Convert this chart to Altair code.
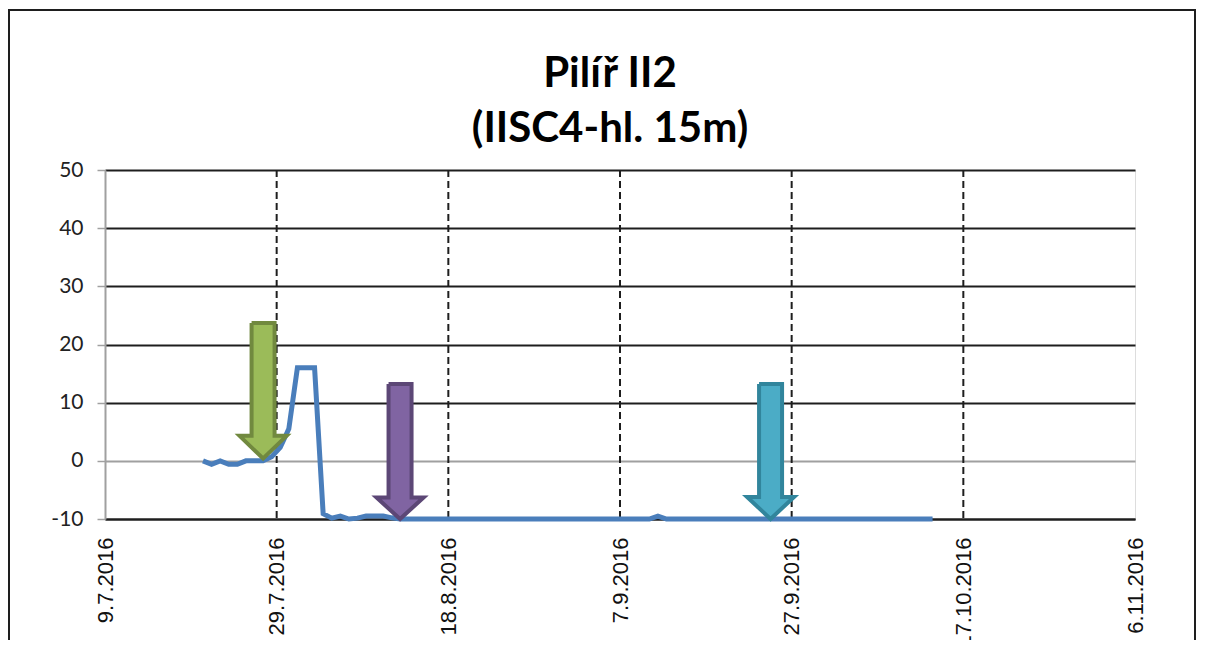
import altair as alt
import pandas as pd

# ---------------- data ----------------
first_day = "2016-07-20 10:00"
series_values = [
    # Jul 20 - Jul 31
    0, -0.6, 0, -0.6, -0.6, 0, 0, 0, 0.7, 2.3, 5.5, 16,
    # Aug 1 - Aug 31
    16, 16, -9.1, -9.85, -9.5, -10, -9.85, -9.5, -9.5, -9.5, -9.8,
    -10, -10, -10, -10, -10, -10, -10, -10, -10, -10,
    -10, -10, -10, -10, -10, -10, -10, -10, -10, -10,
    # Sep 1 - Sep 30
    -10, -10, -10, -10, -10, -10, -10, -10, -10, -10,
    -9.5, -10, -10, -10, -10, -10, -10, -10, -10, -10,
    -10, -10, -10, -10, -10, -10, -10, -10, -10, -10,
    # Oct 1 - Oct 13
    -10, -10, -10, -10, -10, -10, -10, -10, -10, -10, -10, -10, -10,
]
series_dates = pd.date_range(first_day, periods=len(series_values), freq="D")

tick_dates = ["2016-07-09", "2016-07-29", "2016-08-18", "2016-09-07",
              "2016-09-27", "2016-10-17", "2016-11-06"]
y_ticks = [-10, 0, 10, 20, 30, 40, 50]

title_text = "Pilíř II2"
subtitle_text = "(IISC4-hl. 15m)"

# arrows (annotation shapes)
arrow_centers = ["2016-07-27 10:00", "2016-08-12 09:00", "2016-09-24 13:00"]
arrow_tops = [23.7, 13.2, 13.2]
arrow_head_tops = [4.3, -6.3, -6.2]
arrow_tips = [0.4, -10, -10]
arrow_fills = ["#9bbb59", "#8064a2", "#4bacc6"]
arrow_strokes = ["#71893f", "#5c4776", "#31859c"]
shaft_half_days = 1.34
head_half_days = 2.74

# ---------------- build ----------------
df = pd.DataFrame({"date": series_dates, "value": series_values})


def dt(s):
    t = pd.Timestamp(s)
    return alt.DateTime(year=t.year, month=t.month, date=t.day)


x_scale = alt.Scale(domain=[dt(tick_dates[0]), dt(tick_dates[-1])])
y_scale = alt.Scale(domain=[-10, 50], nice=False, zero=False)

x_axis = alt.Axis(
    values=[dt(d) for d in tick_dates], format="%-d.%-m.%Y", labelAngle=270,
    grid=False, ticks=False, domainColor="#1e1e1e", domainWidth=2,
    labelPadding=18, labelFont="Liberation Sans", labelFontSize=22,
    labelColor="#111111", labelFlush=False, labelOverlap=False, title=None,
)
y_axis = alt.Axis(
    values=y_ticks, grid=True,
    gridColor={"condition": {"test": "datum.value === 0", "value": "#a0a0a0"},
               "value": "#1e1e1e"},
    gridWidth=2, domainColor="#a0a0a0", domainWidth=2, tickColor="#a0a0a0",
    tickSize=8, tickWidth=1.5, labelFont="Lato", labelFontSize=21,
    labelColor="#222222", labelPadding=14, title=None,
    labelExpr="'' + datum.value",
)

base_x = alt.X("date:T", scale=x_scale, axis=x_axis)
base_y = alt.Y("value:Q", scale=y_scale, axis=y_axis)

grid_df = pd.DataFrame({"date": pd.to_datetime(tick_dates[1:-1])})
vgrid = alt.Chart(grid_df).mark_rule(
    color="#1e1e1e", strokeWidth=2, strokeDash=[7, 4]
).encode(x=alt.X("date:T", scale=x_scale))

line = alt.Chart(df).mark_line(color="#4a7ebb", strokeWidth=5).encode(
    x=base_x, y=base_y
)

layers = [vgrid, line]
for c, top, ht, tip, f, s in zip(arrow_centers, arrow_tops, arrow_head_tops,
                                 arrow_tips, arrow_fills, arrow_strokes):
    cc = pd.Timestamp(c)
    sh = pd.Timedelta(days=shaft_half_days)
    hh = pd.Timedelta(days=head_half_days)
    pts = [
        (cc - sh, top), (cc + sh, top), (cc + sh, ht), (cc + hh, ht),
        (cc, tip), (cc - hh, ht), (cc - sh, ht), (cc - sh, top),
    ]
    adf = pd.DataFrame({"date": [p[0] for p in pts],
                        "value": [p[1] for p in pts],
                        "k": list(range(len(pts)))})
    layers.append(
        alt.Chart(adf).mark_line(fill=f, stroke=f, strokeWidth=0).encode(
            x=alt.X("date:T", scale=x_scale),
            y=alt.Y("value:Q", scale=y_scale), order="k:O")
    )
    layers.append(
        alt.Chart(adf).mark_line(stroke=s, strokeWidth=4, strokeJoin="miter").encode(
            x=alt.X("date:T", scale=x_scale),
            y=alt.Y("value:Q", scale=y_scale), order="k:O")
    )

one = pd.DataFrame({"a": [0]})
border = alt.Chart(one).mark_rect(
    fillOpacity=0, stroke="#1e1e1e", strokeWidth=2
).encode(x=alt.value(-96), x2=alt.value(1090), y=alt.value(-160), y2=alt.value(700))
layers.append(border)

title_mark = alt.Chart(pd.DataFrame({"t": [title_text]})).mark_text(
    font="Lato", fontSize=42, fontWeight="bold", color="#000000",
    align="center", baseline="alphabetic"
).encode(text="t:N", x=alt.value(505), y=alt.value(-83))
subtitle_mark = alt.Chart(pd.DataFrame({"t": [subtitle_text]})).mark_text(
    font="Lato", fontSize=42, fontWeight="bold", color="#000000",
    align="center", baseline="alphabetic"
).encode(text="t:N", x=alt.value(505), y=alt.value(-28))
layers += [title_mark, subtitle_mark]

chart = alt.layer(*layers).properties(
    width=1030, height=349,
    autosize=alt.AutoSizeParams(type="none"),
    padding={"left": 97, "top": 162, "right": 62, "bottom": 121},
).configure_view(stroke="#1e1e1e", strokeWidth=2).configure(background="white")

chart.save("out.html", embed_options={"renderer": "svg", "actions": False})
